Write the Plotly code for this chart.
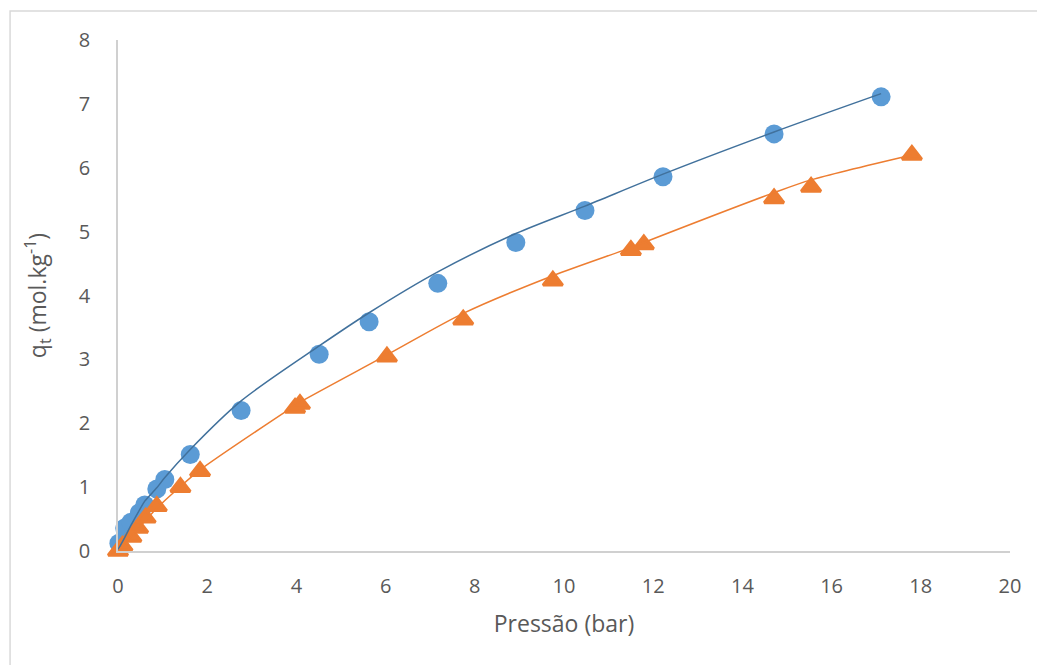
import plotly.graph_objects as go

# Measured isotherm, series 1 (circles)
pressure_1 = [0.02, 0.15, 0.29, 0.48, 0.60, 0.87, 1.05, 1.62, 2.76, 4.51, 5.63, 7.17, 8.92, 10.47, 12.22, 14.71, 17.11]
uptake_1 = [0.12, 0.36, 0.45, 0.60, 0.72, 0.97, 1.12, 1.51, 2.20, 3.08, 3.59, 4.19, 4.83, 5.33, 5.86, 6.53, 7.11]
# Model curve for series 1, evaluated at the same pressures
fit_p_1 = [0.0, 0.15, 0.29, 0.48, 0.60, 0.87, 1.05, 1.62, 2.76, 4.51, 5.63, 7.17, 8.92, 10.47, 12.22, 14.71, 17.11]
fit_q_1 = [0.02, 0.21, 0.40, 0.64, 0.78, 0.99, 1.15, 1.59, 2.35, 3.21, 3.73, 4.37, 4.97, 5.40, 5.90, 6.56, 7.16]

# Measured isotherm, series 2 (triangles)
pressure_2 = [0.0, 0.10, 0.30, 0.45, 0.62, 0.87, 1.40, 1.84, 3.97, 4.08, 6.03, 7.74, 9.75, 11.50, 11.79, 14.71, 15.54, 17.80]
uptake_2 = [0.0, 0.08, 0.22, 0.36, 0.52, 0.70, 1.00, 1.25, 2.24, 2.30, 3.04, 3.62, 4.23, 4.71, 4.80, 5.52, 5.70, 6.20]
# Model curve for series 2
fit_p_2 = [0.0, 0.10, 0.30, 0.45, 0.62, 0.87, 1.40, 1.84, 3.97, 4.08, 6.03, 7.74, 9.75, 11.50, 11.79, 14.71, 15.54, 17.80]
fit_q_2 = [0.0, 0.07, 0.23, 0.35, 0.48, 0.67, 1.01, 1.27, 2.28, 2.33, 3.07, 3.72, 4.31, 4.75, 4.83, 5.61, 5.81, 6.20]

x_ticks = [0, 2, 4, 6, 8, 10, 12, 14, 16, 18, 20]
y_ticks = [0, 1, 2, 3, 4, 5, 6, 7, 8]

BLUE = "#5B9BD5"
BLUE_LINE = "#41719C"
ORANGE = "#ED7D31"
TEXT = "#595959"
AXIS = "#D0D0D0"
FONT = "Open Sans"

fig = go.Figure()

fig.add_trace(go.Scatter(
    x=pressure_1, y=uptake_1, mode="markers",
    marker=dict(symbol="circle", size=19, color=BLUE, line=dict(width=0)),
    cliponaxis=False, showlegend=False,
))
fig.add_trace(go.Scatter(
    x=pressure_2, y=uptake_2, mode="markers",
    marker=dict(symbol="triangle-up", size=17, color=ORANGE,
                line=dict(width=3, color=ORANGE)),
    cliponaxis=False, showlegend=False,
))
fig.add_trace(go.Scatter(
    x=fit_p_1, y=fit_q_1, mode="lines",
    line=dict(color=BLUE_LINE, width=1.5, shape="spline", smoothing=0.8),
    cliponaxis=False, showlegend=False,
))
fig.add_trace(go.Scatter(
    x=fit_p_2, y=fit_q_2, mode="lines",
    line=dict(color=ORANGE, width=1.5, shape="spline", smoothing=0.8),
    cliponaxis=False, showlegend=False,
))

# Light frame around the chart area (runs off the right and bottom edges)
fig.add_shape(type="rect", xref="paper", yref="paper",
              x0=-0.121, y0=-0.4, x1=1.2, y1=1.0568,
              line=dict(color="#D9D9D9", width=1.5), fillcolor="rgba(0,0,0,0)",
              layer="below")

fig.update_layout(
    width=1037, height=665,
    margin=dict(l=118, r=27, t=40, b=114),
    paper_bgcolor="white", plot_bgcolor="white",
    font=dict(family=FONT, color=TEXT, size=20),
    xaxis=dict(
        range=[0, 20], tickvals=x_ticks, ticktext=[str(v) for v in x_ticks],
        showgrid=False, zeroline=False, showline=True, linecolor=AXIS, linewidth=1.5,
        ticks="", ticklen=0, ticklabelstandoff=16, tickfont=dict(size=20, color=TEXT),
        title=dict(text="Pressão (bar)", font=dict(size=23, color=TEXT), standoff=18),
    ),
    yaxis=dict(
        range=[0, 8], tickvals=y_ticks, ticktext=[str(v) for v in y_ticks],
        showgrid=False, zeroline=False, showline=True, linecolor=AXIS, linewidth=1.5,
        ticks="", ticklen=0, ticklabelstandoff=22, tickfont=dict(size=20, color=TEXT),
        title=dict(text="q<sub>t</sub> (mol.kg<sup>-1</sup>)", font=dict(size=23, color=TEXT), standoff=26),
    ),
)

fig.write_html("out.html")
